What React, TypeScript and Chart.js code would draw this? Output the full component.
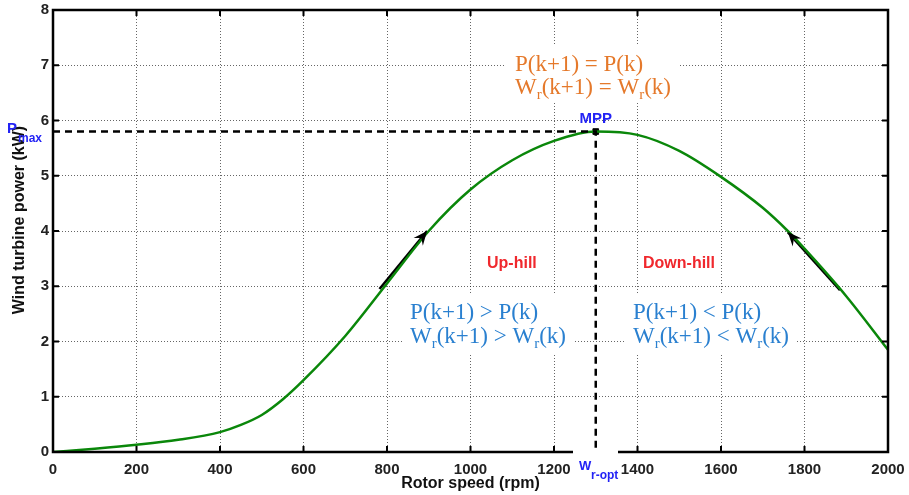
import React, { useEffect, useRef } from "react";
import { Chart, registerables } from "chart.js";
Chart.register(...registerables);

// ---- data ----
const rpm = [0, 100, 200, 300, 400, 450, 500, 550, 600, 700, 800, 900, 1000, 1100, 1200, 1300, 1400, 1500, 1600, 1700, 1760, 1800, 1900, 2000];
const power = [0, 0.06, 0.13, 0.22, 0.36, 0.49, 0.67, 0.95, 1.3, 2.1, 3.05, 4.0, 4.75, 5.28, 5.63, 5.8, 5.74, 5.45, 4.98, 4.42, 4.0, 3.68, 2.82, 1.85];
const mppRpm = 1300;
const mppPower = 5.8;
const upArrowRpm = [782, 896];
const upArrowPower = [2.95, 4.0];
const downArrowRpm = [1885, 1760];
const downArrowPower = [2.93, 3.98];
const xTicks = [0, 200, 400, 600, 800, 1000, 1200, 1400, 1600, 1800, 2000];
const yTicks = [0, 1, 2, 3, 4, 5, 6, 7, 8];

const SANS = "'Liberation Sans', Arial, sans-serif";
const SERIF = "'Liberation Serif', 'Times New Roman', serif";
const ORANGE = "#e5792b";
const LBLUE = "#2a80d0";
const BLUE = "#2323f5";
const RED = "#f0282d";

type Part = [string, boolean];
function drawParts(ctx: CanvasRenderingContext2D, parts: Part[], x: number, y: number, size: number, sub: number, color: string) {
  ctx.fillStyle = color;
  ctx.textAlign = "left";
  ctx.textBaseline = "alphabetic";
  let cx = x;
  for (const [t, isSub] of parts) {
    ctx.font = `${isSub ? sub : size}px ${SERIF}`;
    ctx.fillText(t, cx, isSub ? y + 5 : y);
    cx += ctx.measureText(t).width;
  }
}

const overlay = {
  id: "overlay",
  beforeDatasetsDraw(chart: any) {
    const ctx = chart.ctx as CanvasRenderingContext2D;
    ctx.save();
    ctx.fillStyle = "#fff";
    ctx.fillRect(505, 45, 175, 58);
    ctx.fillRect(402, 293, 173, 62);
    ctx.fillRect(625, 293, 170, 62);
    ctx.restore();
  },
  afterDraw(chart: any) {
    const ctx = chart.ctx as CanvasRenderingContext2D;
    const xs = chart.scales.x;
    const ys = chart.scales.y;
    const { left, right, top, bottom } = chart.chartArea;
    ctx.save();
    // inward ticks
    ctx.strokeStyle = "#000";
    ctx.lineWidth = 2;
    ctx.beginPath();
    for (const v of xTicks) {
      const px = xs.getPixelForValue(v);
      ctx.moveTo(px, bottom); ctx.lineTo(px, bottom - 6);
      ctx.moveTo(px, top); ctx.lineTo(px, top + 6);
    }
    for (const v of yTicks) {
      const py = ys.getPixelForValue(v);
      ctx.moveTo(left, py); ctx.lineTo(left + 6, py);
      ctx.moveTo(right, py); ctx.lineTo(right - 6, py);
    }
    ctx.stroke();
    // frame
    ctx.lineWidth = 2.5;
    ctx.strokeRect(left, top, right - left, bottom - top);

    // arrow heads
    const head = (xr: number[], yr: number[]) => {
      const x1 = xs.getPixelForValue(xr[0]), y1 = ys.getPixelForValue(yr[0]);
      const x2 = xs.getPixelForValue(xr[1]), y2 = ys.getPixelForValue(yr[1]);
      const a = Math.atan2(y2 - y1, x2 - x1);
      const L = 14, W = 6;
      ctx.fillStyle = "#000";
      ctx.beginPath();
      ctx.moveTo(x2, y2);
      ctx.lineTo(x2 - L * Math.cos(a) + W * Math.sin(a), y2 - L * Math.sin(a) - W * Math.cos(a));
      ctx.lineTo(x2 - L * 0.65 * Math.cos(a), y2 - L * 0.65 * Math.sin(a));
      ctx.lineTo(x2 - L * Math.cos(a) - W * Math.sin(a), y2 - L * Math.sin(a) + W * Math.cos(a));
      ctx.closePath();
      ctx.fill();
    };
    head(upArrowRpm, upArrowPower);
    head(downArrowRpm, downArrowPower);

    // axis titles
    ctx.fillStyle = "#111";
    ctx.font = `bold 16px ${SANS}`;
    ctx.textAlign = "center";
    ctx.textBaseline = "middle";
    ctx.fillText("Rotor speed (rpm)", (left + right) / 2, 484);
    ctx.save();
    ctx.translate(20, 220);
    ctx.rotate(-Math.PI / 2);
    ctx.fillText("Wind turbine power (kW)", 0, 0);
    ctx.restore();

    // P_max
    ctx.fillStyle = BLUE;
    ctx.textAlign = "left";
    ctx.textBaseline = "alphabetic";
    ctx.font = `bold 15px ${SANS}`;
    ctx.fillText("P", 7, 133);
    ctx.font = `bold 12px ${SANS}`;
    ctx.fillText("max", 18, 142);

    // MPP
    ctx.font = `bold 15px ${SANS}`;
    ctx.textAlign = "center";
    ctx.fillText("MPP", xs.getPixelForValue(mppRpm), 123);

    // W_r-opt with white patch over axis
    ctx.fillStyle = "#fff";
    ctx.fillRect(573, 450, 45, 32);
    ctx.fillStyle = BLUE;
    ctx.textAlign = "left";
    ctx.font = `bold 13px ${SANS}`;
    ctx.fillText("W", 579, 470);
    ctx.font = `bold 12px ${SANS}`;
    ctx.fillText("r-opt", 591, 479);

    // Up-hill / Down-hill
    ctx.fillStyle = RED;
    ctx.font = `bold 16px ${SANS}`;
    ctx.fillText("Up-hill", 487, 268);
    ctx.fillText("Down-hill", 643, 268);

    // serif annotations
    drawParts(ctx, [["P(k+1) = P(k)", false]], 515, 71, 23, 15, ORANGE);
    drawParts(ctx, [["W", false], ["r", true], ["(k+1) = W", false], ["r", true], ["(k)", false]], 515, 94, 23, 15, ORANGE);
    drawParts(ctx, [["P(k+1) > P(k)", false]], 410, 319, 23, 15, LBLUE);
    drawParts(ctx, [["W", false], ["r", true], ["(k+1) > W", false], ["r", true], ["(k)", false]], 410, 343, 23, 15, LBLUE);
    drawParts(ctx, [["P(k+1) < P(k)", false]], 633, 319, 23, 15, LBLUE);
    drawParts(ctx, [["W", false], ["r", true], ["(k+1) < W", false], ["r", true], ["(k)", false]], 633, 343, 23, 15, LBLUE);
    ctx.restore();
  },
};

export default function App() {
  const ref = useRef<HTMLCanvasElement>(null);
  useEffect(() => {
    document.body.style.margin = "0";
    const curve = rpm.map((x, i) => ({ x, y: power[i] }));
    const chart = new Chart(ref.current!, {
      type: "line",
      data: {
        datasets: [
          {
            data: [{ x: 0, y: mppPower }, { x: mppRpm, y: mppPower }, { x: mppRpm, y: 0 }],
            borderColor: "#000",
            borderWidth: 2.5,
            borderDash: [7, 5],
            pointRadius: 0,
            tension: 0,
          },
          {
            data: curve,
            borderColor: "#0a870a",
            borderWidth: 2.5,
            pointRadius: 0,
            cubicInterpolationMode: "monotone",
          },
          {
            data: upArrowRpm.map((x, i) => ({ x, y: upArrowPower[i] })),
            borderColor: "#000",
            borderWidth: 2.5,
            pointRadius: 0,
          },
          {
            data: downArrowRpm.map((x, i) => ({ x, y: downArrowPower[i] })),
            borderColor: "#000",
            borderWidth: 2.5,
            pointRadius: 0,
          },
          {
            type: "scatter",
            data: [{ x: mppRpm, y: mppPower }],
            backgroundColor: "#000",
            borderColor: "#000",
            pointStyle: "rect",
            pointRadius: 4,
          } as any,
        ],
      },
      options: {
        animation: false,
        responsive: false,
        layout: { padding: { top: 10, right: 21, left: 0, bottom: 0 } },
        plugins: { legend: { display: false }, tooltip: { enabled: false } },
        scales: {
          x: {
            type: "linear",
            min: 0,
            max: 2000,
            afterFit: (s: any) => { s.height = 43; s.paddingLeft = 0; s.paddingRight = 0; },
            afterBuildTicks: (s: any) => { s.ticks = xTicks.map((v) => ({ value: v })); },
            ticks: { color: "#222", padding: 9, maxRotation: 0, font: { family: SANS, size: 15, weight: "bold" }, callback: (v: any) => String(v) },
            grid: { color: "rgba(0,0,0,0.6)", lineWidth: 1, drawTicks: false },
            border: { display: false, dash: [1, 2] },
          },
          y: {
            type: "linear",
            min: 0,
            max: 8,
            afterFit: (s: any) => { s.width = 53; s.paddingTop = 0; s.paddingBottom = 0; },
            afterBuildTicks: (s: any) => { s.ticks = yTicks.map((v) => ({ value: v })); },
            ticks: { color: "#222", padding: 4, font: { family: SANS, size: 15, weight: "bold" }, callback: (v: any) => String(v) },
            grid: { color: "rgba(0,0,0,0.6)", lineWidth: 1, drawTicks: false },
            border: { display: false, dash: [1, 2] },
          },
        },
      },
      plugins: [overlay],
    } as any);
    return () => chart.destroy();
  }, []);
  return (
    <div style={{ width: 909, height: 495, background: "#fff" }}>
      <canvas ref={ref} width={909} height={495} style={{ display: "block" }} />
    </div>
  );
}
